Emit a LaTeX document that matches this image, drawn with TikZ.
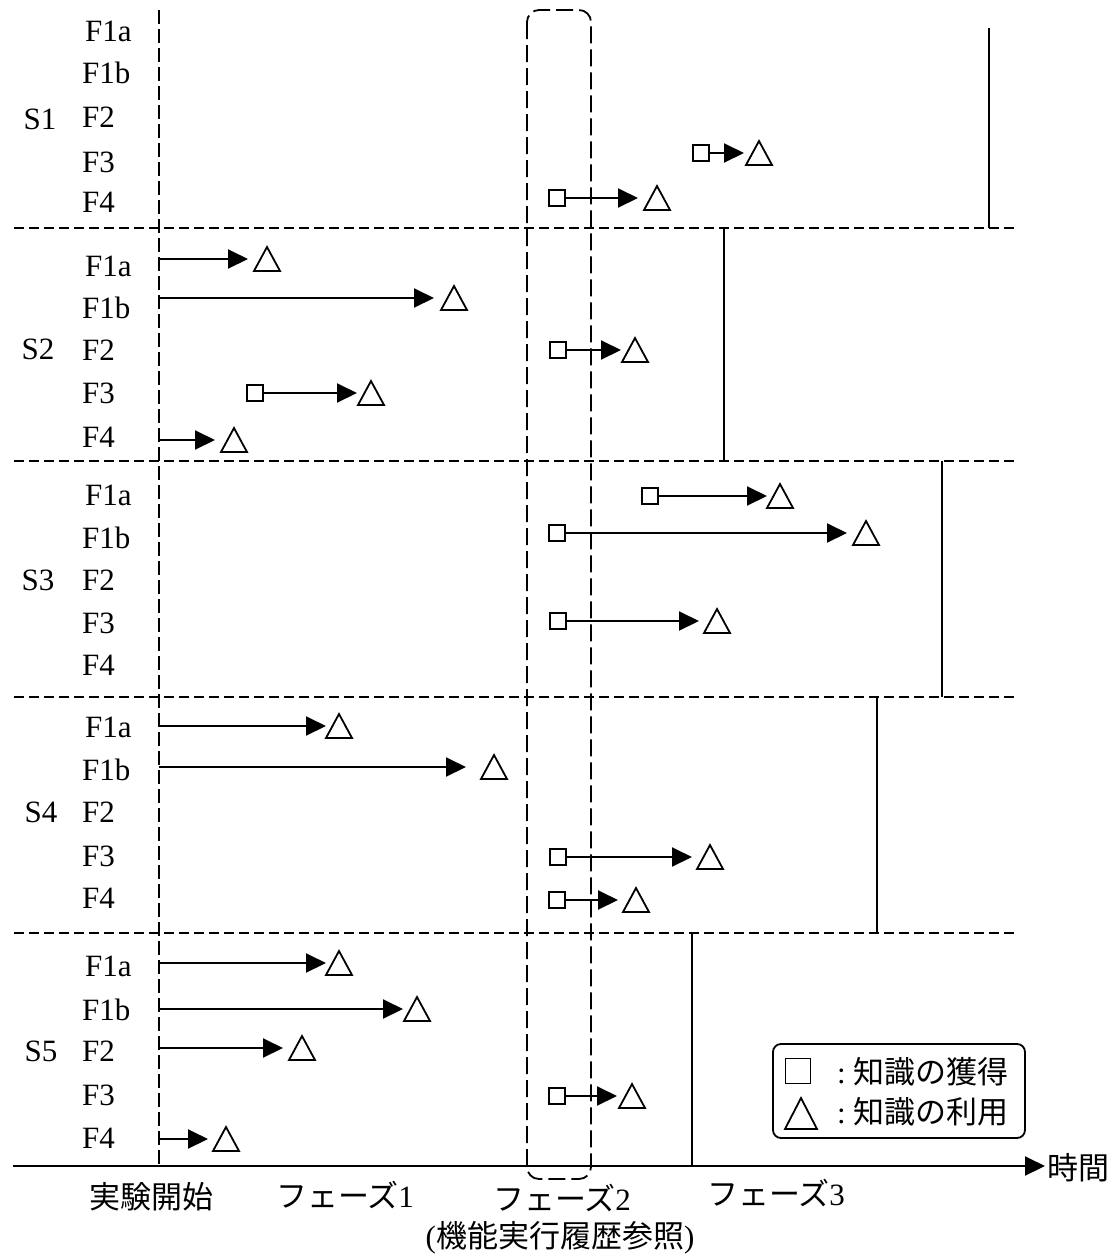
\documentclass[tikz,border=0pt]{standalone}
\usepackage{fontspec}
\setmainfont{Liberation Serif}
\newfontfamily\jp{Noto Sans CJK JP}
\usetikzlibrary{arrows.meta,shapes.geometric}
\begin{document}
\begin{tikzpicture}[x=1pt,y=-1pt,
  font=\fontsize{31pt}{36pt}\selectfont,
  sep/.style={line width=1.8pt, dash pattern=on 10pt off 5pt},
  startline/.style={line width=1.8pt, dash pattern=on 14pt off 5pt},
  phasebox/.style={line width=1.8pt, dash pattern=on 17pt off 6pt, rounded corners=12pt},
  phaseline/.style={line width=2pt},
  arr/.style={line width=2pt, -{Triangle[length=20pt,width=19pt]}},
  acq/.style={draw, line width=1.8pt, rectangle, minimum size=16pt, inner sep=0pt, outer sep=0pt, fill=white},
  use/.style={draw, line width=1.8pt, isosceles triangle, isosceles triangle stretches,
    shape border rotate=90, minimum width=26pt, minimum height=24pt, inner sep=0pt, outer sep=0pt, anchor=apex},
  flabel/.style={anchor=west, inner sep=0pt, text height=20.5pt, text depth=0pt},
  slabel/.style={anchor=center, inner sep=0pt, text height=20.5pt, text depth=0pt},
  jlabel/.style={anchor=center, inner sep=0pt},
]
\useasboundingbox (0,0) rectangle (1115,1256);

% separators and structure
\draw[sep] (14,228) -- (1015,228);
\draw[sep] (14,461) -- (1015,461);
\draw[sep] (14,697) -- (1015,697);
\draw[sep] (14,933) -- (1015,933);
\draw[startline] (159,10) -- (159,1166);
\draw[phasebox] (527,10) rectangle (591,1179);
\draw[phaseline] (989,28) -- (989,228);
\draw[phaseline] (724,228) -- (724,461);
\draw[phaseline] (942,461) -- (942,697);
\draw[phaseline] (877,697) -- (877,933);
\draw[phaseline] (692,933) -- (692,1166);

% time axis
\coordinate (axL) at (13,1166);
\node[anchor=west, inner sep=0pt] (time) at (1047,1168) {\jp 時間};
\draw[arr] (axL) -- ([xshift=-2pt]time.west |- axL);

% bottom labels
\node[jlabel] (start) at (151,1197) {\jp 実験開始};
\node[jlabel] (ph1) at (345,1195) {{\jp フェーズ}1};
\node[jlabel] (ph2) at (562,1198) {{\jp フェーズ}2};
\node[jlabel] (ph3) at (776,1193) {{\jp フェーズ}3};
\node[jlabel] (ph2note) at (560,1238) {({\jp 機能実行履歴参照})};

% row labels
\node[slabel] (S1) at (40,119) {S1};
\node[flabel] (S1a) at (85,31) {F1a};
\node[flabel] (S1b) at (82,73) {F1b};
\node[flabel] (S1c) at (82,117) {F2};
\node[flabel] (S1d) at (82,162) {F3};
\node[flabel] (S1e) at (82,202) {F4};

\node[slabel] (S2) at (38,349) {S2};
\node[flabel] (S2a) at (85,266) {F1a};
\node[flabel] (S2b) at (82,308) {F1b};
\node[flabel] (S2c) at (82,350) {F2};
\node[flabel] (S2d) at (82,393) {F3};
\node[flabel] (S2e) at (82,437) {F4};

\node[slabel] (S3) at (38,580) {S3};
\node[flabel] (S3a) at (85,495) {F1a};
\node[flabel] (S3b) at (82,538) {F1b};
\node[flabel] (S3c) at (82,580) {F2};
\node[flabel] (S3d) at (82,623) {F3};
\node[flabel] (S3e) at (82,665) {F4};

\node[slabel] (S4) at (41,812) {S4};
\node[flabel] (S4a) at (85,727) {F1a};
\node[flabel] (S4b) at (82,770) {F1b};
\node[flabel] (S4c) at (82,812) {F2};
\node[flabel] (S4d) at (82,856) {F3};
\node[flabel] (S4e) at (82,898) {F4};

\node[slabel] (S5) at (41,1051) {S5};
\node[flabel] (S5a) at (85,966) {F1a};
\node[flabel] (S5b) at (82,1010) {F1b};
\node[flabel] (S5c) at (82,1051) {F2};
\node[flabel] (S5d) at (82,1095) {F3};
\node[flabel] (S5e) at (82,1138) {F4};

% S1
\node[acq] (a14) at (701,153) {}; \coordinate (e14) at (744,153);
\draw[arr] (a14) -- (e14); \node[use] (u14) at (759,141) {};
\node[acq] (a15) at (557,198) {}; \coordinate (e15) at (638,198);
\draw[arr] (a15) -- (e15); \node[use] (u15) at (657,186) {};

% S2
\coordinate (b21) at (159,259); \coordinate (e21) at (248,259);
\draw[arr] (b21) -- (e21); \node[use] (u21) at (267,247) {};
\coordinate (b22) at (159,298); \coordinate (e22) at (434,298);
\draw[arr] (b22) -- (e22); \node[use] (u22) at (454,286) {};
\node[acq] (a23) at (558,350) {}; \coordinate (e23) at (621,350);
\draw[arr] (a23) -- (e23); \node[use] (u23) at (635,338) {};
\node[acq] (a24) at (255,393) {}; \coordinate (e24) at (357,393);
\draw[arr] (a24) -- (e24); \node[use] (u24) at (371,381) {};
\coordinate (b25) at (159,440); \coordinate (e25) at (215,440);
\draw[arr] (b25) -- (e25); \node[use] (u25) at (234,428) {};

% S3
\node[acq] (a31) at (650,496) {}; \coordinate (e31) at (767,496);
\draw[arr] (a31) -- (e31); \node[use] (u31) at (780,484) {};
\node[acq] (a32) at (557,533) {}; \coordinate (e32) at (847,533);
\draw[arr] (a32) -- (e32); \node[use] (u32) at (866,521) {};
\node[acq] (a34) at (558,621) {}; \coordinate (e34) at (699,621);
\draw[arr] (a34) -- (e34); \node[use] (u34) at (717,609) {};

% S4
\coordinate (b41) at (159,726); \coordinate (e41) at (326,726);
\draw[arr] (b41) -- (e41); \node[use] (u41) at (339,714) {};
\coordinate (b42) at (159,767); \coordinate (e42) at (466,767);
\draw[arr] (b42) -- (e42); \node[use] (u42) at (494,755) {};
\node[acq] (a44) at (558,857) {}; \coordinate (e44) at (692,857);
\draw[arr] (a44) -- (e44); \node[use] (u44) at (710,845) {};
\node[acq] (a45) at (557,900) {}; \coordinate (e45) at (618,900);
\draw[arr] (a45) -- (e45); \node[use] (u45) at (636,888) {};

% S5
\coordinate (b51) at (159,963); \coordinate (e51) at (326,963);
\draw[arr] (b51) -- (e51); \node[use] (u51) at (339,951) {};
\coordinate (b52) at (159,1009); \coordinate (e52) at (403,1009);
\draw[arr] (b52) -- (e52); \node[use] (u52) at (417,997) {};
\coordinate (b53) at (159,1048); \coordinate (e53) at (283,1048);
\draw[arr] (b53) -- (e53); \node[use] (u53) at (302,1036) {};
\node[acq] (a54) at (557,1096) {}; \coordinate (e54) at (617,1096);
\draw[arr] (a54) -- (e54); \node[use] (u54) at (632,1084) {};
\coordinate (b55) at (159,1139); \coordinate (e55) at (208,1139);
\draw[arr] (b55) -- (e55); \node[use] (u55) at (226,1127) {};

% legend
\draw[line width=1.8pt, rounded corners=8pt] (773,1044) rectangle (1025,1138);
\node[acq, minimum size=25pt] (legsq) at (798,1071) {};
\node[use, minimum width=32pt, minimum height=31pt] (legtri) at (801,1098) {};
\node[anchor=west, inner sep=0pt] (legacq) at (837,1072) {:\hspace{8pt}{\jp 知識の獲得}};
\node[anchor=west, inner sep=0pt] (leguse) at (837,1112) {:\hspace{8pt}{\jp 知識の利用}};
\end{tikzpicture}
\end{document}
